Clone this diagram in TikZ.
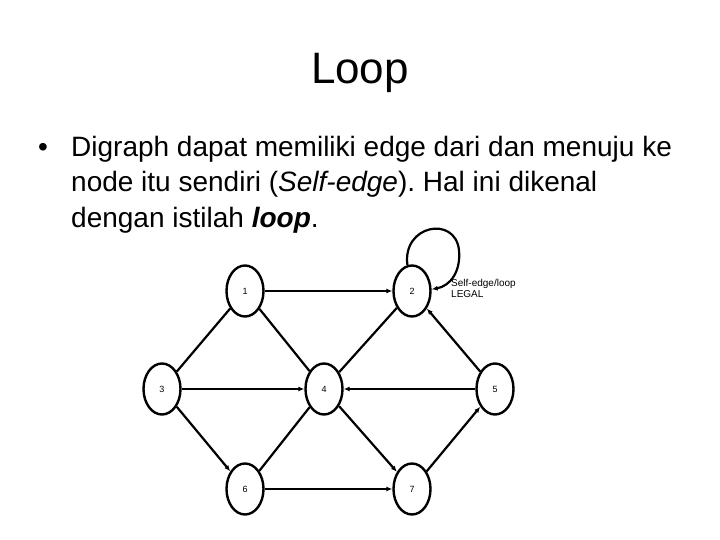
\documentclass[tikz,border=0pt]{standalone}
\usepackage{fontspec}
\setmainfont{Liberation Sans}
\usetikzlibrary{shapes.geometric,arrows.meta}
\frenchspacing
\begin{document}
\begin{tikzpicture}[x=1pt,y=-1pt,
  vert/.style={ellipse,draw,line width=2.4pt,minimum width=37pt,minimum height=51pt,inner sep=0pt,font=\fontsize{9}{10}\selectfont},
  edge/.style={line width=2.2pt},
  arr/.style={line width=2.2pt,-{Latex[length=6pt,width=5pt]}}]
\useasboundingbox (0,0) rectangle (720,540);
\node[anchor=base,font=\fontsize{44}{50}\selectfont] (title) at (360,84) {Loop};
\node[anchor=base west,inner sep=0pt,font=\fontsize{28}{32}\selectfont] (bul) at (38,157) {•};
\node[anchor=base west,inner sep=0pt,font=\fontsize{28}{32}\selectfont] (l1) at (71,157) {Digraph dapat memiliki edge dari dan menuju ke};
\node[anchor=base west,inner sep=0pt,font=\fontsize{28}{32}\selectfont] (l2) at (71,192) {node itu sendiri (\textit{Self-edge}). Hal ini dikenal};
\node[anchor=base west,inner sep=0pt,font=\fontsize{28}{32}\selectfont] (l3) at (71,227) {dengan istilah \textbf{\textit{loop}}.};

\node[vert] (n1) at (245,291) {1};
\node[vert] (n2) at (412,291) {2};
\node[vert] (n3) at (162,389) {3};
\node[vert] (n4) at (324,389) {4};
\node[vert] (n5) at (495,389) {5};
\node[vert] (n6) at (245,489) {6};
\node[vert] (n7) at (412,489) {7};

\draw[arr] (n1) -- (n2);
\draw[edge] (n3) -- (n1);
\draw[edge] (n1) -- (n4);
\draw[edge] (n2) -- (n4);
\draw[arr] (n5) -- (n2);
\draw[arr] (n3) -- (n4);
\draw[arr] (n5) -- (n4);
\draw[arr] (n3) -- (n6);
\draw[edge] (n6) -- (n4);
\draw[arr] (n4) -- (n7);
\draw[arr] (n7) -- (n5);
\draw[arr] (n6) -- (n7);
\draw[arr] (n2.100) .. controls (402,225) and (455,215) .. (459,250) .. controls (461,272) and (450,286) .. (n2.5);

\node[anchor=base west,inner sep=0pt,font=\fontsize{10}{11}\selectfont] (lab1) at (451,286) {Self-edge/loop};
\node[anchor=base west,inner sep=0pt,font=\fontsize{10}{11}\selectfont] (lab2) at (451,297) {LEGAL};
\end{tikzpicture}
\end{document}
